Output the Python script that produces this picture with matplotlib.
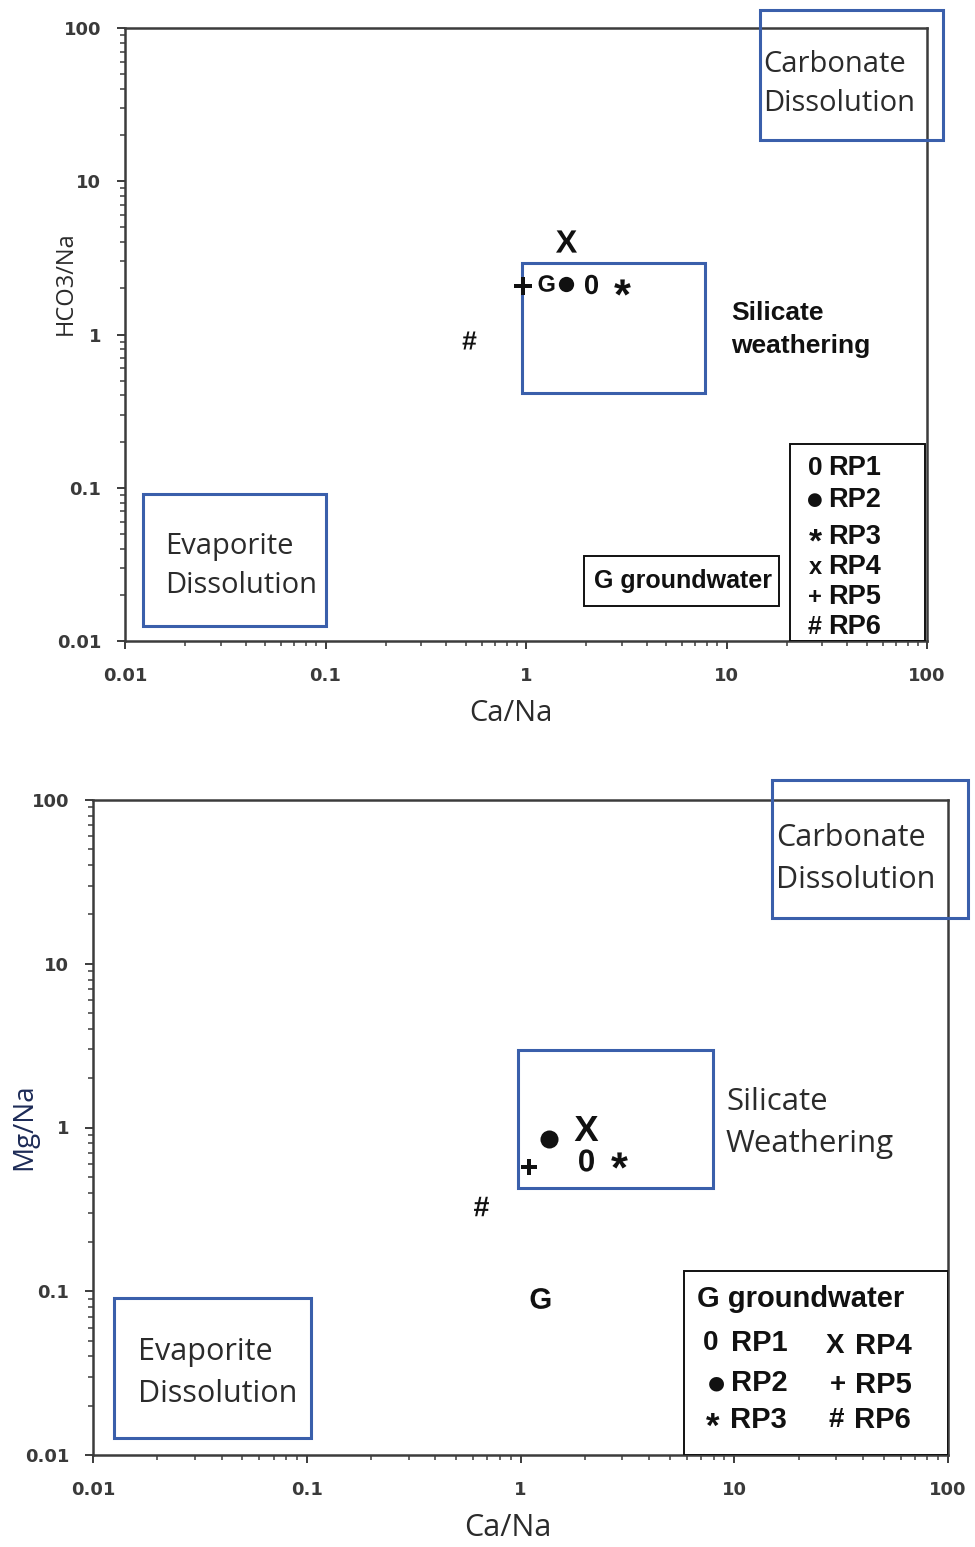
import matplotlib
matplotlib.use('Agg')
import matplotlib.pyplot as plt
from matplotlib.patches import Rectangle
from matplotlib.ticker import NullFormatter, LogLocator, FixedLocator

# ---------------- data ----------------
samples = ['RP1', 'RP2', 'RP3', 'RP4', 'RP5', 'RP6', 'G']
symbols = [r'$\mathbf{0}$', 'o', r'$\mathbf{*}$', r'$\mathbf{X}$', r'$\mathbf{+}$', r'$\mathbf{\#}$', r'$\mathbf{G}$']

# top panel: Ca/Na vs HCO3/Na
ca_na_top = [2.11, 1.58, 3.01, 1.58, 0.97, 0.52, 1.26]
hco3_na = [2.15, 2.15, 2.04, 4.07, 2.07, 0.92, 2.17]

# bottom panel: Ca/Na vs Mg/Na
ca_na_bot = [2.02, 1.36, 2.89, 2.02, 1.10, 0.65, 1.23]
mg_na = [0.63, 0.85, 0.63, 1.00, 0.57, 0.33, 0.091]

tick_vals = [0.01, 0.1, 1, 10, 100]
tick_labels = ['0.01', '0.1', '1', '10', '100']

# region boxes (x0, x1, y0, y1)
region_names = ['Carbonate Dissolution', 'Silicate weathering', 'Evaporite Dissolution']
regions_top = [(14.7, 120, 18.6, 131), (0.95, 7.8, 0.415, 2.93), (0.0123, 0.10, 0.0125, 0.091)]
regions_bot = [(15.0, 124, 19.0, 132), (0.97, 7.95, 0.43, 2.97), (0.0125, 0.105, 0.0127, 0.091)]

# ---------------- styles ----------------
ms_top = [14, 11, 12, 16, 13, 13, 12]
ms_bot = [16, 13, 12, 18, 11, 14, 15]

plt.rcParams['font.family'] = ['Liberation Sans', 'DejaVu Sans']
plt.rcParams['mathtext.fontset'] = 'custom'
plt.rcParams['mathtext.bf'] = 'Liberation Sans:bold'
plt.rcParams['mathtext.rm'] = 'Liberation Sans'

W, H = 975, 1547
fig = plt.figure(figsize=(W / 100, H / 100), dpi=100)
fig.patch.set_facecolor('white')


def axes_px(l, t, r, b):
    return fig.add_axes([l / W, 1 - b / H, (r - l) / W, (b - t) / H])


ax1 = axes_px(125, 28, 927, 641)
ax2 = axes_px(93, 800, 948, 1455)

AX_COL = '#3c3c3c'
BLUE = '#3a5fab'
TXT_LIGHT = dict(family=['Open Sans', 'DejaVu Sans'], color='#2b2b2b')
BOLD = dict(family=['Liberation Sans', 'DejaVu Sans'], fontweight='bold', color='#111111')
DOT = dict(family=['DejaVu Sans'], color='#111111')

for ax in (ax1, ax2):
    ax.set_xscale('log')
    ax.set_yscale('log')
    ax.set_xlim(0.01, 100)
    ax.set_ylim(0.01, 100)
    ax.xaxis.set_major_locator(FixedLocator(tick_vals))
    ax.yaxis.set_major_locator(FixedLocator(tick_vals))
    ax.set_xticklabels(tick_labels)
    ax.set_yticklabels(tick_labels)
    ax.xaxis.set_minor_locator(LogLocator(base=10, subs=range(2, 10)))
    ax.yaxis.set_minor_locator(LogLocator(base=10, subs=range(2, 10)))
    ax.xaxis.set_minor_formatter(NullFormatter())
    ax.yaxis.set_minor_formatter(NullFormatter())
    for s in ax.spines.values():
        s.set_color(AX_COL)
        s.set_linewidth(1.8)
    ax.tick_params(which='major', direction='out', length=6, width=1.4, color=AX_COL,
                   labelcolor='#3a3a3a', top=False, right=False)
    ax.tick_params(which='minor', direction='out', length=3.5, width=1.1, color=AX_COL,
                   top=False, right=False)
    ax.tick_params(axis='x', which='major', pad=13)
    ax.tick_params(axis='y', which='major', pad=11)
    for lab in ax.get_xticklabels() + ax.get_yticklabels():
        lab.set_fontfamily(['DejaVu Sans'])
        lab.set_fontweight('bold')
        lab.set_fontsize(13)


def draw_regions(ax, boxes):
    for (x0, x1, y0, y1) in boxes:
        ax.add_patch(Rectangle((x0, y0), x1 - x0, y1 - y0, fill=False, edgecolor=BLUE,
                               linewidth=2.2, clip_on=False, zorder=3))


def draw_points(ax, xs, ys, sizes):
    for x, y, m, s in zip(xs, ys, symbols, sizes):
        ax.plot([x], [y], linestyle='none', marker=m, markersize=s, color='#111111',
                markeredgewidth=0, zorder=5, clip_on=False)


def pxt(px, py, l, t, r, b):
    return (px - l) / (r - l), (b - py) / (b - t)


TOP_BOX = (125, 28, 927, 641)
BOT_BOX = (93, 800, 948, 1455)


def t1(px, py, s, **kw):
    x, y = pxt(px, py, *TOP_BOX)
    ax1.text(x, y, s, transform=ax1.transAxes, clip_on=False, **kw)


def t2(px, py, s, **kw):
    x, y = pxt(px, py, *BOT_BOX)
    ax2.text(x, y, s, transform=ax2.transAxes, clip_on=False, **kw)


# ---------------- top panel ----------------
draw_regions(ax1, regions_top)
draw_points(ax1, ca_na_top, hco3_na, ms_top)

t1(763, 64, 'Carbonate', fontsize=21, va='center', ha='left', **TXT_LIGHT)
t1(763, 103, 'Dissolution', fontsize=21, va='center', ha='left', **TXT_LIGHT)
t1(731, 313, 'Silicate', fontsize=19, va='center', ha='left', **BOLD)
t1(731, 346, 'weathering', fontsize=19, va='center', ha='left', **BOLD)
t1(165, 546, 'Evaporite', fontsize=21, va='center', ha='left', **TXT_LIGHT)
t1(165, 585, 'Dissolution', fontsize=21, va='center', ha='left', **TXT_LIGHT)

# legend boxes (top)
ax1.add_patch(Rectangle(pxt(584, 606, *TOP_BOX), (779 - 584) / 802, 50 / 613,
                        transform=ax1.transAxes, fill=False, edgecolor='#111111', linewidth=1.4, zorder=4))
t1(594, 581, 'G groundwater', fontsize=18, va='center', ha='left', **BOLD)
ax1.add_patch(Rectangle(pxt(790, 641, *TOP_BOX), (925 - 790) / 802, 197 / 613,
                        transform=ax1.transAxes, fill=False, edgecolor='#111111', linewidth=1.4, zorder=4))
leg_top_sym = ['0', '\u25cf', '*', 'x', '+', '#']
leg_top_y = [468, 500, 537, 567, 597, 627]
leg_top_sym_size = [19, 13, 24, 17, 17, 18]
for sym, yy, lab, fs in zip(leg_top_sym, leg_top_y, samples[:6], leg_top_sym_size):
    dy = 6 if sym == '*' else 0
    style = DOT if sym == '\u25cf' else BOLD
    t1(815, yy + dy, sym, fontsize=fs, va='center', ha='center', **style)
    t1(828, yy, lab, fontsize=19.5, va='center', ha='left', **BOLD)

ax1.set_xlabel('Ca/Na', fontsize=21, **TXT_LIGHT)
ax1.xaxis.set_label_coords((511 - 125) / 802, (641 - 699) / 613)
ax1.set_ylabel('HCO3/Na', fontsize=17, **TXT_LIGHT)
ax1.yaxis.set_label_coords((78 - 125) / 802, (641 - 283) / 613)

# ---------------- bottom panel ----------------
draw_regions(ax2, regions_bot)
draw_points(ax2, ca_na_bot, mg_na, ms_bot)

t2(776, 838, 'Carbonate', fontsize=22, va='center', ha='left', **TXT_LIGHT)
t2(776, 880, 'Dissolution', fontsize=22, va='center', ha='left', **TXT_LIGHT)
t2(726, 1102, 'Silicate', fontsize=22.5, va='center', ha='left', **TXT_LIGHT)
t2(726, 1144, 'Weathering', fontsize=22.5, va='center', ha='left', **TXT_LIGHT)
t2(138, 1352, 'Evaporite', fontsize=22, va='center', ha='left', **TXT_LIGHT)
t2(138, 1394, 'Dissolution', fontsize=22, va='center', ha='left', **TXT_LIGHT)

ax2.add_patch(Rectangle(pxt(684, 1455, *BOT_BOX), (948 - 684) / 855, (1455 - 1271) / 655,
                        transform=ax2.transAxes, fill=False, edgecolor='#111111', linewidth=1.4, zorder=4))
t2(697, 1299, 'G groundwater', fontsize=21, va='center', ha='left', **BOLD)
leg_bot = [('0', 'RP1', 711, 731, 1343), ('\u25cf', 'RP2', 716, 731, 1383), ('*', 'RP3', 713, 730, 1420),
           ('X', 'RP4', 835, 855, 1346), ('+', 'RP5', 838, 855, 1385), ('#', 'RP6', 836, 854, 1420)]
for sym, lab, sx, lx, yy in leg_bot:
    dy = 7 if sym == '*' else 0
    fs = 25 if sym == '*' else 20
    style = BOLD
    if sym == '\u25cf':
        fs = 14
        style = DOT
    t2(sx, yy + dy, sym, fontsize=fs, va='center', ha='center', **style)
    t2(lx, yy, lab, fontsize=21, va='center', ha='left', **BOLD)

ax2.set_xlabel('Ca/Na', fontsize=22, **TXT_LIGHT)
ax2.xaxis.set_label_coords((508 - 93) / 855, (1455 - 1513) / 655)
ax2.set_ylabel('Mg/Na', fontsize=20, family=['Open Sans', 'DejaVu Sans'], color='#1d2b57')
ax2.yaxis.set_label_coords((38 - 93) / 855, (1455 - 1127) / 655)

fig.savefig('out.png', dpi=100, facecolor='white')
